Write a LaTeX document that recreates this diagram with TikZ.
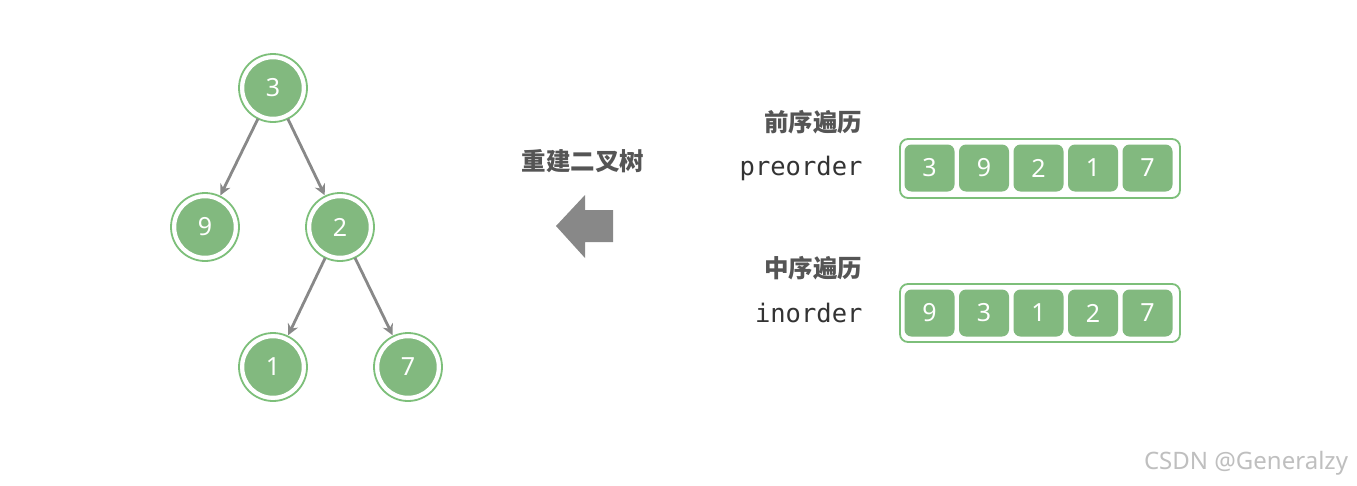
\documentclass[tikz,border=0pt]{standalone}
\usepackage{fontspec}
\setmainfont{Noto Sans}
\setmonofont{DejaVu Sans Mono}
\newfontfamily\cjk{Noto Sans CJK SC}
\usetikzlibrary{arrows.meta}
\definecolor{gfill}{HTML}{82B97F}
\definecolor{gline}{HTML}{7DBF7A}
\definecolor{tgray}{HTML}{555555}
\definecolor{agray}{HTML}{888888}
\tikzset{
  tnode/.style={circle,fill=gfill,draw=white,line width=2.5pt,minimum size=60pt,text=white,font=\fontsize{25}{28}\selectfont,inner sep=0pt,
    append after command={\pgfextra{\draw[gline,line width=1.8pt] (\tikzlastnode.center) circle (34pt);}}},
  edge/.style={draw=agray,line width=2.8pt,-{Stealth[length=11pt,width=11pt]},shorten >=4pt,shorten <=3pt},
  cell/.style={rectangle,rounded corners=7pt,fill=gfill,minimum width=50pt,minimum height=47pt,text=white,font=\fontsize{25}{28}\selectfont,inner sep=0pt},
  outer/.style={draw=gline,line width=1.8pt,rounded corners=8pt},
  cnlabel/.style={anchor=east,text=tgray,font=\cjk\bfseries\fontsize{24.5}{28}\selectfont},
  enlabel/.style={anchor=east,text=black!80,font=\ttfamily\fontsize{25.5}{28}\selectfont}
}
\begin{document}
\begin{tikzpicture}[x=1pt,y=-1pt]
\useasboundingbox[fill=white] (0,0) rectangle (1357,485);
\node[tnode] (n3) at (273,88) {3};
\node[tnode] (n9) at (205,227) {9};
\node[tnode] (n2) at (340,227) {2};
\node[tnode] (n1) at (273,367) {1};
\node[tnode] (n7) at (408,367) {7};
\draw[edge] (n3) -- (n9);
\draw[edge] (n3) -- (n2);
\draw[edge] (n2) -- (n1);
\draw[edge] (n2) -- (n7);
\node[text=tgray,font=\cjk\bfseries\fontsize{24.5}{28}\selectfont] (title) at (583,161) {重建二叉树};
\fill[agray] (613,210) -- (585,210) -- (585,195) -- (556,226) -- (585,258) -- (585,242) -- (613,242) -- cycle;
\node[cnlabel] (l1) at (866,122) {前序遍历};
\node[enlabel] (e1) at (866,168) {preorder};
\node[cnlabel] (l2) at (866,268) {中序遍历};
\node[enlabel] (e2) at (866,313) {inorder};
\draw[outer] (900,139) rectangle (1180,198);
\draw[outer] (900,284) rectangle (1180,342);
\foreach \v [count=\i] in {3,9,2,1,7} {
  \node[cell] (p\i) at (875+54.5*\i,168) {\v};
}
\foreach \v [count=\i] in {9,3,1,2,7} {
  \node[cell] (q\i) at (875+54.5*\i,313) {\v};
}
\node[text=black!25,font=\fontsize{24}{28}\selectfont] (wm) at (1246,463) {CSDN @Generalzy};
\end{tikzpicture}
\end{document}
